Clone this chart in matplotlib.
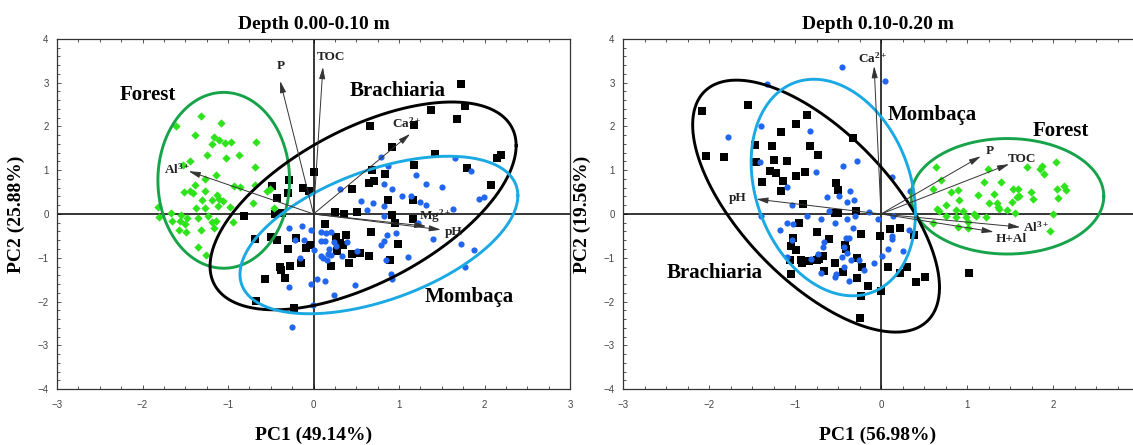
import numpy as np
import matplotlib
matplotlib.use("Agg")
import matplotlib.pyplot as plt
from matplotlib.ticker import MultipleLocator

plt.rcParams['font.family'] = ['Liberation Serif', 'DejaVu Serif']
plt.rcParams['mathtext.fontset'] = 'custom'
plt.rcParams['mathtext.rm'] = 'Liberation Serif:bold'
plt.rcParams['mathtext.it'] = 'Liberation Serif:bold:italic'
plt.rcParams['mathtext.bf'] = 'Liberation Serif:bold'

# ---------------- Depth 0.00-0.10 m ----------------
titles = ["Depth 0.00-0.10 m", "Depth 0.10-0.20 m"]
xlabels = ["PC1 (49.14%)", "PC1 (56.98%)"]
ylabels = ["PC2 (25.88%)", "PC2 (19.56%)"]

forest1_x = [-1.61, -1.31, -1.08, -1.39, -1.16, -1.19, -1.10, -1.03, -0.96, -0.67,
             -1.24, -1.02, -0.87, -1.44, -1.53, -0.68, -1.14, -1.27, -1.39, -1.44,
             -1.51, -1.41, -1.27, -0.93, -0.86, -0.68, -0.54, -0.51, -1.13, -1.11,
             -1.06, -1.19, -1.30, -0.71, -1.38, -1.27, -1.12, -0.98, -0.46, -1.82,
             -1.81, -1.67, -1.55, -1.48, -1.35, -1.23, -1.65, -1.56, -1.50, -1.19,
             -1.14, -1.57, -1.49, -1.32, -1.16, -0.94, -1.35, -1.26]
forest1_y = [2.00, 2.24, 2.08, 1.80, 1.76, 1.59, 1.68, 1.63, 1.64, 1.65,
             1.34, 1.27, 1.35, 1.21, 1.13, 1.08, 0.89, 0.79, 0.67, 0.52,
             0.50, 0.47, 0.52, 0.63, 0.62, 0.67, 0.53, 0.57, 0.44, 0.35,
             0.29, 0.33, 0.31, 0.25, 0.14, 0.14, 0.19, 0.15, 0.14, 0.15,
             -0.08, 0.02, -0.02, -0.09, -0.09, -0.05, -0.17, -0.17, -0.23, -0.18,
             -0.17, -0.36, -0.41, -0.36, -0.32, -0.18, -0.76, -0.93]

brach1_x = [1.72, 1.77, 1.38, 1.68, 1.18, 0.66, 0.92, 1.42, 2.19, 2.15,
            1.18, 1.80, 0.68, 0.84, 0.65, 0.71, 2.08, 0.00, -0.29, -0.48,
            -0.12, -0.05, -0.30, -0.43, 0.45, 0.87, 1.16, 0.25, 0.36, 0.51,
            -0.45, -0.37, -0.81, 0.92, 1.16, 0.95, 0.13, 0.67, 0.38, 0.26,
            -0.68, -0.50, -0.43, -0.21, 0.31, 0.35, 0.99, -0.04, -0.09, -0.30,
            0.28, 0.45, 0.54, 0.65, 0.89, 0.41, -0.15, -0.39, -0.27, -0.38,
            -0.33, -0.57, 0.20, -0.67, -0.23]
brach1_y = [2.98, 2.47, 2.37, 2.18, 2.03, 2.00, 1.53, 1.38, 1.34, 1.27,
            1.11, 1.05, 1.00, 0.91, 0.71, 0.75, 0.66, 0.95, 0.77, 0.63,
            0.60, 0.53, 0.47, 0.37, 0.56, 0.31, 0.31, 0.04, 0.01, 0.05,
            0.00, 0.02, -0.05, -0.03, -0.12, -0.21, -0.24, -0.41, -0.49, -0.52,
            -0.57, -0.53, -0.59, -0.56, -0.66, -0.70, -0.68, -0.71, -0.78, -0.80,
            -0.84, -0.91, -0.90, -0.97, -1.05, -1.11, -1.13, -1.20, -1.18, -1.29,
            -1.47, -1.48, -1.18, -1.98, -2.14]

momb1_x = [0.79, 1.66, 0.87, 1.84, 1.20, 0.82, 1.32, 1.50, 0.92, 0.31,
           1.94, 1.99, 1.03, 1.14, 0.56, 0.70, 1.24, 1.32, 0.83, 0.63,
           1.63, 0.82, 1.22, 0.96, 0.86, 0.82, 0.79, 1.40, 1.73, 1.88,
           1.11, 0.85, 0.91, 0.92, 1.77, -0.29, -0.13, -0.03, -0.22, -0.11,
           0.00, 0.09, 0.15, 0.21, 0.09, 0.13, 0.24, 0.26, 0.18, 0.17,
           0.09, 0.16, 0.11, 0.21, 0.33, 0.39, 0.51, -0.16, -0.29, -0.03,
           0.04, 0.13, 0.24, 0.48, -0.01, -0.25]
momb1_y = [1.31, 1.28, 1.09, 0.99, 0.90, 0.69, 0.69, 0.62, 0.58, 0.56,
           0.34, 0.39, 0.40, 0.42, 0.29, 0.25, 0.27, 0.20, 0.18, 0.08,
           0.11, -0.05, -0.21, -0.44, -0.47, -0.61, -0.72, -0.57, -0.69, -0.82,
           -0.98, -1.06, -1.37, -1.48, -1.20, -0.31, -0.27, -0.37, -0.60, -0.60,
           -0.83, -0.41, -0.44, -0.42, -0.61, -0.61, -0.63, -0.73, -0.80, -0.91,
           -0.97, -1.05, -1.01, -0.93, -0.97, -0.64, -0.85, -1.01, -1.67, -1.60,
           -1.48, -1.52, -1.86, -1.63, -2.08, -2.59]

# ---------------- Depth 0.10-0.20 m ----------------
forest2_x = [0.64, 0.70, 0.60, 0.65, 0.67, 0.76, 0.81, 0.89, 0.91, 0.87,
             0.95, 0.76, 0.60, 0.87, 0.99, 1.01, 0.90, 1.01, 1.08, 1.10,
             1.13, 1.22, 1.24, 1.20, 1.26, 1.31, 1.35, 1.36, 1.39, 1.37,
             1.47, 1.52, 1.54, 1.58, 1.56, 1.60, 1.59, 1.70, 1.74, 1.77,
             1.85, 1.87, 1.89, 2.04, 2.05, 2.06, 2.13, 2.15, 2.00, 1.97]
forest2_y = [1.07, 0.77, 0.58, 0.12, 0.06, 0.20, 0.50, 0.55, 0.33, 0.08,
             0.06, -0.05, -0.20, -0.08, -0.07, -0.18, -0.30, -0.33, 0.01, -0.05,
             0.44, -0.07, 1.03, 0.73, 0.24, 0.46, 0.24, 0.17, 0.73, 0.12,
             0.08, 0.27, 0.56, 0.39, 0.02, 0.41, 0.56, 1.07, 0.50, 0.35,
             1.03, 1.09, 0.92, 1.18, 0.58, 0.37, 0.64, 0.54, -0.01, -0.39]

brach2_x = [-2.08, -1.55, -0.86, -0.99, -1.16, -0.32, -1.46, -1.27, -0.83, -2.04,
            -1.82, -0.73, -1.24, -1.09, -1.45, -1.29, -1.22, -0.88, -0.99, -1.38,
            -1.14, -1.16, -0.52, -0.50, -0.91, -0.54, -0.50, -0.29, -0.95, -0.74,
            -1.02, -0.60, -1.05, -0.99, -0.42, -0.41, -0.23, -0.01, 0.11, 0.22,
            0.38, -1.06, -0.93, -0.84, -0.74, -0.68, -0.92, -0.72, -0.53, -0.28,
            -0.22, -0.66, -0.44, -1.05, -0.28, 0.08, 0.22, 0.30, 0.51, 0.41,
            -0.15, 0.00, -0.23, -0.24, 1.02]
brach2_y = [2.36, 2.49, 2.26, 2.05, 1.87, 1.74, 1.58, 1.55, 1.55, 1.32,
            1.30, 1.35, 1.24, 1.22, 1.19, 0.98, 0.93, 0.95, 0.86, 0.74,
            0.75, 0.52, 0.71, 0.55, 0.22, 0.02, 0.02, 0.06, -0.20, -0.41,
            -0.54, -0.58, -0.74, -0.83, -0.71, -0.81, -0.45, -0.51, -0.34, -0.33,
            -0.47, -1.05, -1.05, -1.08, -1.05, -0.96, -1.13, -1.02, -1.11, -1.00,
            -1.21, -1.30, -1.32, -1.38, -1.47, -1.21, -1.34, -1.22, -1.45, -1.55,
            -1.64, -1.76, -1.87, -2.37, -1.34]

momb2_x = [-0.45, 0.05, -1.33, -1.39, -1.78, -0.83, -0.28, -0.44, -0.76, -1.41,
           0.13, 0.34, -1.09, -0.63, -0.49, -0.36, -0.40, -0.31, -1.03, -0.86,
           -0.61, -0.30, -0.14, -0.04, 0.14, -0.70, -0.40, -0.53, -0.32, -1.09,
           -1.02, -1.18, 0.33, 0.13, 0.13, 0.26, 0.08, 0.01, -0.08, -0.41,
           -0.37, -0.66, -0.68, -0.43, -0.40, -0.45, -0.73, -0.81, -1.09, -0.35,
           -0.26, -0.43, -0.52, -0.54, -0.37, -0.20, -1.03, -0.70, -1.39]
momb2_y = [3.36, 3.04, 2.96, 2.00, 1.77, 1.90, 1.22, 1.09, 0.96, 1.19,
           0.84, 0.52, 0.61, 0.39, 0.40, 0.52, 0.27, 0.31, 0.20, -0.05,
           0.07, -0.05, 0.04, -0.11, -0.05, -0.11, -0.11, -0.20, -0.31, -0.20,
           -0.24, -0.37, -0.36, -0.51, -0.58, -0.84, -0.79, -0.96, -1.13, -0.54,
           -0.54, -0.64, -0.75, -0.75, -0.90, -0.98, -0.92, -1.02, -0.98, -1.05,
           -1.05, -1.21, -1.36, -1.45, -1.53, -1.27, -0.60, -1.34, -0.04]

# Loading vectors: names, tip coordinates, label positions
load1_names = [r'P', r'TOC', r'Ca$^{\mathrm{2+}}$', r'Mg$^{\mathrm{2+}}$', r'pH', r'Al$^{\mathrm{3+}}$']
load1_x = [-0.39, 0.11, 1.13, 1.32, 1.49, -1.46]
load1_y = [3.04, 3.36, 1.83, -0.28, -0.36, 0.98]
load1_lx = [-0.38, 0.21, 1.09, 1.42, 1.64, -1.60]
load1_ly = [3.39, 3.58, 2.08, -0.04, -0.41, 1.02]

load2_names = [r'Ca$^{\mathrm{2+}}$', r'pH', r'P', r'TOC', r'Al$^{\mathrm{3+}}$', r'H+Al']
load2_x = [-0.08, -1.45, 1.16, 1.49, 1.62, 1.31]
load2_y = [3.38, 0.34, 1.32, 1.14, -0.30, -0.41]
load2_lx = [-0.10, -1.67, 1.26, 1.64, 1.80, 1.51]
load2_ly = [3.57, 0.36, 1.45, 1.26, -0.30, -0.58]

# Group ellipses: centre x, centre y, half-width, half-height, correlation
ell1_forest = (-1.05, 0.77, 0.77, 2.01, 0.0)
ell1_brach = (0.58, 0.185, 1.79, 2.375, 0.58)
ell1_momb = (0.765, -0.48, 1.625, 1.80, 0.50)
ell2_forest = (1.47, 0.405, 1.12, 1.32, 0.0)
ell2_brach = (-0.755, 0.18, 1.435, 2.88, -0.645)
ell2_momb = (-0.555, 0.605, 0.955, 2.475, -0.236)

group1_labels = [("Forest", -1.94, 2.71), ("Brachiaria", 0.98, 2.81), ("Mombaça", 1.82, -1.89)]
group2_labels = [("Mombaça", 0.59, 2.26), ("Forest", 2.09, 1.90), ("Brachiaria", -1.94, -1.36)]

C_FOREST_PT = '#2fe31c'
C_FOREST_EL = '#17a34a'
C_BRACH = '#000000'
C_MOMB_PT = '#2166ee'
C_MOMB_EL = '#1aa9e2'


def ellipse(ax, params, color):
    cx, cy, hx, hy, rho = params
    t = np.linspace(0, 2 * np.pi, 400)
    x = cx + hx * np.cos(t)
    y = cy + hy * (rho * np.cos(t) + np.sqrt(1 - rho ** 2) * np.sin(t))
    ax.plot(x, y, color=color, lw=2.1, zorder=4)


def panel(ax, idx, forest, brach, momb, ells, loads, glabels, xmax):
    ax.set_xlim(-3, xmax)
    ax.set_ylim(-4, 4)
    ax.axhline(0, color='black', lw=1.1, zorder=2)
    ax.axvline(0, color='black', lw=1.1, zorder=2)

    ax.scatter(brach[0], brach[1], marker='s', s=36, color=C_BRACH, lw=0, zorder=3)
    ax.scatter(momb[0], momb[1], marker='o', s=20, color=C_MOMB_PT, lw=0, zorder=3)
    ax.scatter(forest[0], forest[1], marker='D', s=18, color=C_FOREST_PT, lw=0, zorder=3)

    ellipse(ax, ells[0], C_FOREST_EL)
    ellipse(ax, ells[1], C_BRACH)
    ellipse(ax, ells[2], C_MOMB_EL)

    names, lx, ly, tx, ty = loads
    for n, x, y, a, b in zip(names, lx, ly, tx, ty):
        ax.annotate('', xy=(x, y), xytext=(0, 0),
                    arrowprops=dict(arrowstyle='-|>,head_length=0.7,head_width=0.18',
                                    lw=0.7, color='#333333', shrinkA=0, shrinkB=0),
                    zorder=5)
        ax.text(a, b, n, fontsize=9.5, fontweight='bold', ha='center', va='center',
                color='#222222', zorder=6)

    for name, x, y in glabels:
        ax.text(x, y, name, fontsize=15, fontweight='bold', ha='center', va='center',
                zorder=6)

    ax.set_title(titles[idx], fontsize=14, fontweight='bold', pad=7)
    ax.set_xlabel(xlabels[idx], fontsize=14, fontweight='bold', labelpad=12)
    ax.set_ylabel(ylabels[idx], fontsize=14, fontweight='bold', labelpad=9)

    ax.xaxis.set_major_locator(MultipleLocator(1))
    ax.yaxis.set_major_locator(MultipleLocator(1))
    ax.xaxis.set_minor_locator(MultipleLocator(0.25))
    ax.yaxis.set_minor_locator(MultipleLocator(0.2))
    ax.tick_params(which='both', direction='in', top=True, right=False,
                   labelsize=7, labelcolor='#444444', color='#555555', width=0.7)
    ax.tick_params(which='major', length=3)
    ax.tick_params(which='minor', length=2)
    ax.tick_params(axis='x', which='major', pad=8)
    ax.tick_params(axis='y', which='major', pad=6)
    for lab in ax.get_xticklabels() + ax.get_yticklabels():
        lab.set_family(['Liberation Sans', 'DejaVu Sans'])
    for sp in ax.spines.values():
        sp.set_linewidth(0.9)
        sp.set_color('#333333')


fig = plt.figure(figsize=(11.33, 4.45), dpi=100)
ax1 = fig.add_axes([57 / 1133, 56 / 445, 513 / 1133, 350 / 445])
ax2 = fig.add_axes([623 / 1133, 56 / 445, 510 / 1133, 350 / 445])

panel(ax1, 0, (forest1_x, forest1_y), (brach1_x, brach1_y), (momb1_x, momb1_y),
      (ell1_forest, ell1_brach, ell1_momb),
      (load1_names, load1_x, load1_y, load1_lx, load1_ly), group1_labels, 3)
panel(ax2, 1, (forest2_x, forest2_y), (brach2_x, brach2_y), (momb2_x, momb2_y),
      (ell2_forest, ell2_brach, ell2_momb),
      (load2_names, load2_x, load2_y, load2_lx, load2_ly), group2_labels, 2.93)
ax2.spines['right'].set_visible(False)

fig.savefig('out.png', dpi=100)
